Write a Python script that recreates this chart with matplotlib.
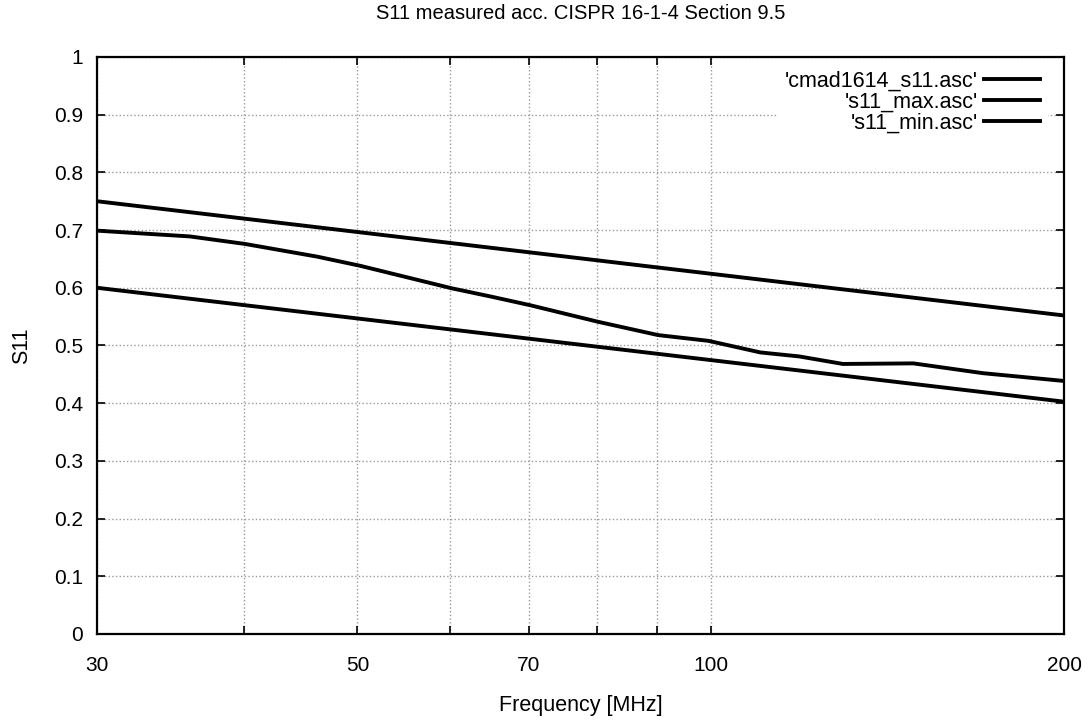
import matplotlib
matplotlib.use("Agg")
import matplotlib.pyplot as plt
from matplotlib.ticker import FixedLocator, FixedFormatter, NullLocator

plt.rcParams['font.family'] = ['Liberation Sans', 'DejaVu Sans']

# measured S11 (cmad1614_s11.asc)
meas_freq = [30, 36, 40.1, 46.2, 50.3, 60.2, 64.9, 70.1, 80.2, 90.2, 99.6,
             110.2, 119, 129.6, 148.8, 170.6, 200]
meas_s11 = [0.699, 0.689, 0.676, 0.654, 0.638, 0.599, 0.585, 0.570, 0.541,
            0.518, 0.508, 0.488, 0.481, 0.468, 0.469, 0.452, 0.4385]

# limit lines
max_freq = [30, 200]
max_s11 = [0.75, 0.552]
min_freq = [30, 200]
min_s11 = [0.60, 0.4026]

x_ticks = [30, 40, 50, 60, 70, 80, 90, 100, 200]
x_labels = ['30', '', '50', '', '70', '', '', '100', '200']
y_ticks = [0, 0.1, 0.2, 0.3, 0.4, 0.5, 0.6, 0.7, 0.8, 0.9, 1]
y_labels = ['0', '0.1', '0.2', '0.3', '0.4', '0.5', '0.6', '0.7', '0.8', '0.9', '1']

fig = plt.figure(figsize=(10.91, 7.23), dpi=100)
ax = fig.add_axes([0.0889, 0.1231, 0.9753 - 0.0889, 0.9212 - 0.1231])

ax.plot(meas_freq, meas_s11, color='black', lw=2.8, label="'cmad1614_s11.asc'")
ax.plot(max_freq, max_s11, color='black', lw=2.8, label="'s11_max.asc'")
ax.plot(min_freq, min_s11, color='black', lw=2.8, label="'s11_min.asc'")

ax.set_xscale('log')
ax.set_xlim(30, 200)
ax.set_ylim(0, 1)
ax.xaxis.set_major_locator(FixedLocator(x_ticks))
ax.xaxis.set_major_formatter(FixedFormatter(x_labels))
ax.xaxis.set_minor_locator(NullLocator())
ax.yaxis.set_major_locator(FixedLocator(y_ticks))
ax.yaxis.set_major_formatter(FixedFormatter(y_labels))

ax.grid(True, which='major', color='#9a9a9a', linestyle=':', linewidth=1.0)
ax.set_axisbelow(True)
ax.tick_params(axis='both', direction='in', length=6, width=1.2,
               top=True, right=True, labelsize=15, colors='black')
ax.tick_params(axis='x', pad=16)
ax.tick_params(axis='y', pad=10)
for s in ax.spines.values():
    s.set_linewidth(1.6)

ax.set_title('S11 measured acc. CISPR 16-1-4 Section 9.5', fontsize=14.5, pad=27)
ax.set_xlabel('Frequency [MHz]', fontsize=15.5, labelpad=14)
ax.set_ylabel('S11', fontsize=15.5, labelpad=16)

leg = ax.legend(loc='upper right', bbox_to_anchor=(0.99, 1.0), markerfirst=False,
                fontsize=15.5, frameon=True, facecolor='white', edgecolor='none',
                framealpha=1, fancybox=False, handlelength=2.6, handletextpad=0.3,
                labelspacing=0.0, borderaxespad=0.3, borderpad=0.35)

fig.savefig('out.png', dpi=100)
